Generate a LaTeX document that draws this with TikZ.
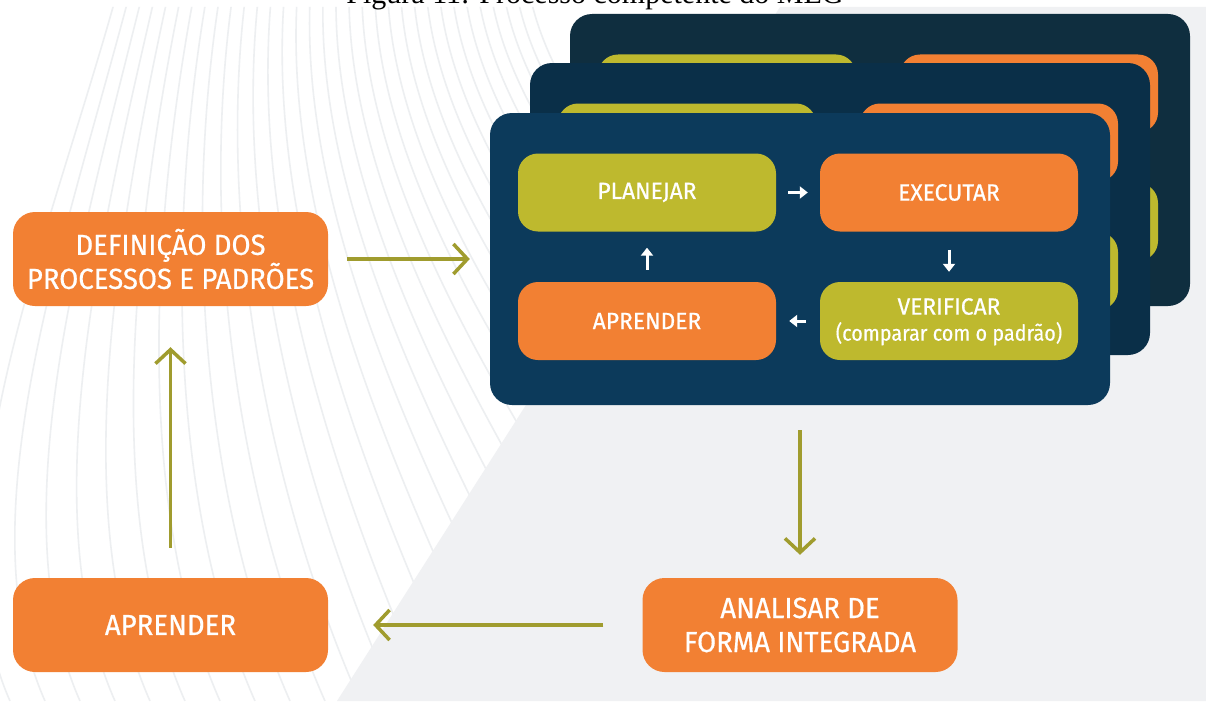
\documentclass[tikz,border=0pt]{standalone}
\usepackage{fontspec}
\setmainfont{Liberation Serif}
\newfontfamily\boxfont[FakeStretch=0.95, FakeBold=0.6]{Fira Sans}
\newfontfamily\innerfont[FakeStretch=0.97, FakeBold=0.6]{Fira Sans}
\newfontfamily\smallboxfont[FakeStretch=0.9, FakeBold=0.4]{Fira Sans}
\usetikzlibrary{arrows.meta}
\definecolor{orng}{HTML}{F28033}
\definecolor{olv}{HTML}{BEB92E}
\definecolor{arrolv}{HTML}{A09C2E}
\definecolor{bggray}{HTML}{F0F1F3}
\definecolor{navyA}{HTML}{0C3A5B}
\definecolor{navyB}{HTML}{0A2F48}
\definecolor{navyC}{HTML}{0F2E3F}
\definecolor{fanline}{HTML}{EDEFF1}
\begin{document}
\begin{tikzpicture}[x=1pt,y=-1pt,
 outerbox/.style={rectangle, rounded corners=22pt, fill=orng, minimum width=315pt, minimum height=94pt, text=white, align=center, font=\boxfont\fontsize{29}{34}\selectfont, inner sep=0pt},
 innerbox/.style={rectangle, rounded corners=20pt, minimum width=258pt, minimum height=78pt, text=white, align=center, font=\innerfont\fontsize{23.5}{25}\selectfont, inner sep=0pt},
 panel/.style={rectangle, rounded corners=22pt, minimum width=620pt, minimum height=292pt, inner sep=0pt},
 bigarrow/.style={draw=arrolv, line width=3.5pt, -{Straight Barb[length=14pt, width=30pt]}},
 smallarrow/.style={draw=white, line width=3pt, -{Triangle[length=8pt,width=12pt]}}
]
\useasboundingbox (0,0) rectangle (1206,701);
\fill[white] (0,0) rectangle (1206,701);
\fill[bggray] (780,7) -- (1206,7) -- (1206,701) -- (337,701) -- cycle;
\begin{scope}
\clip (0,7) -- (780,7) -- (337,701) -- (0,701) -- cycle;
\foreach \i in {0,...,32} {
  \draw[fanline, line width=1.6pt] ({115+13*\i},0) .. controls ({45+17*\i},250) and ({-70+35*\i},520) .. ({10+35*\i},701);
}
\end{scope}
\begin{scope}
\clip (0,0) rectangle (1206,701);
\node[anchor=base, font=\fontsize{30}{30}\selectfont, inner sep=0pt] (cap) at (595,4) {Figura 11: Processo competente do MEG};
\end{scope}
% back panel
\node[panel, fill=navyC] (pback) at (880,160) {};
\node[innerbox, fill=olv] (bplan) at (727,93.5) {};
\node[innerbox, fill=orng] (bexec) at (1029,93.5) {};
\node[innerbox, fill=orng] (bapr) at (727,222) {};
\node[innerbox, fill=olv] (bverif) at (1029,222) {};
% middle panel
\node[panel, fill=navyB] (pmid) at (840,209) {};
\node[innerbox, fill=olv] (mplan) at (687,142.5) {};
\node[innerbox, fill=orng] (mexec) at (989,142.5) {};
\node[innerbox, fill=orng] (mapr) at (687,271) {};
\node[innerbox, fill=olv] (mverif) at (989,271) {};
% front panel
\node[panel, fill=navyA] (front) at (800,259) {};
\node[innerbox, fill=olv] (plan) at (647,192.5) {PLANEJAR};
\node[innerbox, fill=orng] (exec) at (949,192.5) {EXECUTAR};
\node[innerbox, fill=orng] (apr) at (647,321) {APRENDER};
\node[innerbox, fill=olv] (verif) at (949,321) {\raisebox{0pt}[18pt][0pt]{VERIFICAR}\\[1pt]{\smallboxfont\fontsize{22}{25}\selectfont (comparar com o padrão)}};
\draw[smallarrow, shorten <=12pt, shorten >=12pt] (plan.east) -- (exec.west);
\draw[smallarrow, shorten <=18pt, shorten >=10pt] (exec.south) -- (verif.north);
\draw[smallarrow, shorten <=14pt, shorten >=13pt] (verif.west) -- (apr.east);
\draw[smallarrow, shorten <=12pt, shorten >=16pt] (apr.north) -- (plan.south);
% outer boxes
\node[outerbox] (def) at (170.5,259) {DEFINIÇÃO DOS\\PROCESSOS E PADRÕES};
\node[outerbox] (apr2) at (170.5,625) {APRENDER};
\node[outerbox] (anal) at (800,625) {ANALISAR DE\\FORMA INTEGRADA};
\draw[bigarrow, shorten <=19pt, shorten >=20pt] (def.east) -- (front.west);
\draw[bigarrow, shorten <=25pt, shorten >=23pt] (front.south) -- (anal.north);
\draw[bigarrow, shorten <=39pt, shorten >=45pt] (anal.west) -- (apr2.east);
\draw[bigarrow, shorten <=30pt, shorten >=41pt] (apr2.north) -- (def.south);
\end{tikzpicture}
\end{document}
